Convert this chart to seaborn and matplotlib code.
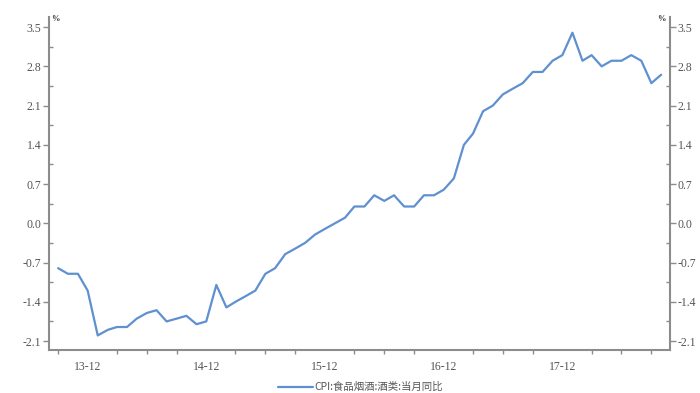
import matplotlib
matplotlib.use("Agg")
import matplotlib.pyplot as plt
import matplotlib.dates as mdates
from matplotlib.ticker import MultipleLocator, FormatStrFormatter, FixedLocator
import pandas as pd
import seaborn as sns

# Monthly year-on-year change, Sep 2013 – Oct 2018
start_month = "2013-09"
n_months = 62
cpi_alcohol = [
    -0.8, -0.9, -0.9, -1.2, -2.0, -1.9, -1.85, -1.85, -1.7, -1.6,
    -1.55, -1.75, -1.7, -1.65, -1.8, -1.75, -1.1, -1.5, -1.4, -1.3,
    -1.2, -0.9, -0.8, -0.55, -0.45, -0.35, -0.2, -0.1, 0.0, 0.1,
    0.3, 0.3, 0.5, 0.4, 0.5, 0.3, 0.3, 0.5, 0.5, 0.6,
    0.8, 1.4, 1.6, 2.0, 2.1, 2.3, 2.4, 2.5, 2.7, 2.7,
    2.9, 3.0, 3.4, 2.9, 3.0, 2.8, 2.9, 2.9, 3.0, 2.9,
    2.5, 2.65,
]
series_label = "CPI:食品烟酒:酒类:当月同比"
y_ticks = [-2.1, -1.4, -0.7, 0.0, 0.7, 1.4, 2.1, 2.8, 3.5]

months = pd.date_range(start_month, periods=n_months, freq="MS")
df = pd.DataFrame({"month": months, "value": cpi_alcohol})

sns.set_theme(style="white")
plt.rcParams["font.family"] = ["Liberation Serif", "Noto Sans CJK SC", "DejaVu Sans"]

fig = plt.figure(figsize=(7.0, 3.93), dpi=100)
ax = fig.add_axes([0.07, 0.1094, 0.887, 0.8473])

line_color = "#5f90d0"
axis_color = "#8c8c8c"
text_color = "#555555"

sns.lineplot(data=df, x="month", y="value", ax=ax, color=line_color,
             linewidth=1.6, label=series_label, legend=False)

ax.set_xlim(pd.Timestamp("2013-08-04"), pd.Timestamp("2018-10-28"))
ax.set_ylim(-2.26, 3.68)
ax.set_xlabel("")
ax.set_ylabel("")

ax.xaxis.set_major_locator(mdates.MonthLocator(bymonth=12))
ax.xaxis.set_minor_locator(mdates.MonthLocator(bymonth=[3, 6, 9]))
ax.xaxis.set_major_formatter(mdates.DateFormatter("%y-%m"))

ax.yaxis.set_major_locator(FixedLocator(y_ticks))
ax.yaxis.set_minor_locator(MultipleLocator(0.35))
ax.yaxis.set_major_formatter(FormatStrFormatter("%.1f"))

for side in ["left", "right", "bottom"]:
    ax.spines[side].set_visible(True)
    ax.spines[side].set_color(axis_color)
    ax.spines[side].set_linewidth(1.5)
ax.spines["top"].set_visible(False)

ax.tick_params(axis="y", which="major", direction="out", length=4, width=1,
               color=axis_color, left=True, right=True,
               labelleft=True, labelright=True, labelsize=8.5,
               labelcolor=text_color, pad=1.5)
ax.tick_params(axis="y", which="minor", direction="in", length=3, width=1,
               color=axis_color, left=True, right=True)
ax.tick_params(axis="x", which="major", direction="out", length=6, width=1,
               color=axis_color, labelsize=8.5, labelcolor=text_color, pad=2)
ax.tick_params(axis="x", which="minor", direction="out", length=3, width=1,
               color=axis_color, bottom=True)

ax.text(0.004, 0.995, "%", transform=ax.transAxes, ha="left", va="center",
        fontsize=6, fontweight="bold", color="#333333")
ax.text(0.993, 0.995, "%", transform=ax.transAxes, ha="right", va="center",
        fontsize=6, fontweight="bold", color="#333333")

handles, labels = ax.get_legend_handles_labels()
fig.legend(handles, labels, loc="center", bbox_to_anchor=(0.515, 0.015),
           frameon=False, handlelength=3.4, handletextpad=0.1,
           prop={"family": ["Noto Sans CJK SC", "DejaVu Sans"], "size": 7.5},
           labelcolor=text_color)

fig.savefig("out.png", dpi=100)
